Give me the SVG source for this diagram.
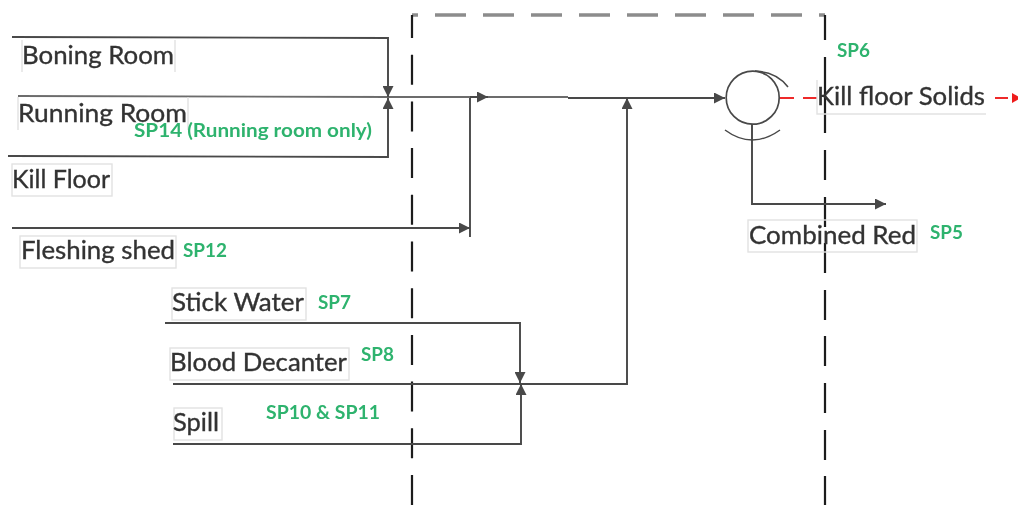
<svg xmlns="http://www.w3.org/2000/svg" width="1018" height="517" viewBox="0 0 1018 517">
<style>
.l{font-family:Lato,"Liberation Sans",sans-serif;font-size:25px;fill:#333;stroke:#333;stroke-width:.35}
.g{font-family:Lato,"Liberation Sans",sans-serif;font-size:18px;font-weight:700;fill:#2fb36e}
.b{fill:none;stroke:#e2e2e2;stroke-width:1.4}
.c{fill:none;stroke:#484848;stroke-width:1.9}
.v{fill:none;stroke:#1c1c1c;stroke-width:2.2}
.r{fill:none;stroke:#ee2b2b;stroke-width:1.9}
</style>
<defs>
<marker id="a" viewBox="0 0 10 10" refX="10" refY="5" markerWidth="11" markerHeight="11" markerUnits="userSpaceOnUse" orient="auto"><path d="M0 0L10 5L0 10Z" fill="#484848"/></marker>
<filter id="s" filterUnits="userSpaceOnUse" x="0" y="0" width="1018" height="517"><feGaussianBlur stdDeviation="0.55"/></filter>
</defs>
<rect width="1018" height="517" fill="#fff"/>
<g filter="url(#s)">
<g id="boundary">
<path d="M412 15H825" fill="none" stroke="#8c8c8c" stroke-width="3.500" stroke-dasharray="31 17" stroke-dashoffset="25"/>
<path class="v" d="M412 15V505" stroke-dasharray="30 16.700" stroke-dashoffset="7"/>
<path class="v" d="M825 15V40M825 57V133M825 150V180M825 197V227M825 243V273M825 290V320M825 336V366M825 383V413M825 430V460M825 476V505"/>
</g>
<g id="connectors">
<path class="c" d="M12 37L388 38V97" marker-end="url(#a)"/>
<path class="c" d="M18 96L388 97H568" stroke-opacity=".8"/>
<path class="c" d="M470 97H488" marker-end="url(#a)"/>
<path class="c" d="M568 98H725" marker-end="url(#a)"/>
<path class="c" d="M8 156L388 157V98" marker-end="url(#a)"/>
<path class="c" d="M12 228H470" marker-end="url(#a)"/>
<path class="c" d="M470 98V237"/>
<path class="c" d="M165 323H520V383" marker-end="url(#a)"/>
<path class="c" d="M173 384H627V98" marker-end="url(#a)"/>
<path class="c" d="M173 444H521V384" marker-end="url(#a)"/>
<path class="c" d="M752 124V204H886" marker-end="url(#a)"/>
<path class="r" d="M780 98H794M803 98H817M995 98H1008"/>
<path d="M1012 93L1021 98L1012 103Z" fill="#ee1c1c"/>
</g>
<g id="separator">
<circle cx="752.700" cy="97.700" r="26.500" fill="none" stroke="#484848" stroke-width="1.700"/>
<path d="M755 71Q777 72 788 87" fill="none" stroke="#484848" stroke-width="1.500"/>
<path d="M725 130Q752 150 780 130" fill="none" stroke="#484848" stroke-width="1.500"/>
</g>
<g id="boning-room"><path class="b" d="M22 40V72M175 40V72"/><text class="l" x="22" y="64" textLength="152" lengthAdjust="spacingAndGlyphs">Boning Room</text></g>
<g id="running-room"><path class="b" d="M18 97V130M188 97V130"/><text class="l" x="18" y="122" textLength="169" lengthAdjust="spacingAndGlyphs">Running Room</text></g>
<g id="kill-floor"><rect class="b" x="12" y="164" width="100" height="32"/><text class="l" x="12" y="188" textLength="98" lengthAdjust="spacingAndGlyphs">Kill Floor</text></g>
<g id="fleshing-shed"><rect class="b" x="20" y="236" width="156" height="32"/><text class="l" x="21" y="259" textLength="154" lengthAdjust="spacingAndGlyphs">Fleshing shed</text></g>
<g id="stick-water"><rect class="b" x="172" y="288" width="134" height="32"/><text class="l" x="172" y="311" textLength="132" lengthAdjust="spacingAndGlyphs">Stick Water</text></g>
<g id="blood-decanter"><rect class="b" x="170" y="348" width="179" height="32"/><text class="l" x="170" y="371" textLength="177" lengthAdjust="spacingAndGlyphs">Blood Decanter</text></g>
<g id="spill"><rect class="b" x="174" y="408" width="48" height="32"/><text class="l" x="173" y="431" textLength="46" lengthAdjust="spacingAndGlyphs">Spill</text></g>
<g id="kill-floor-solids"><path class="b" d="M817 80V114H986"/><text class="l" x="817" y="105" textLength="168" lengthAdjust="spacingAndGlyphs">Kill floor Solids</text></g>
<g id="combined-red"><rect class="b" x="748" y="220" width="169" height="32"/><text class="l" x="749" y="244" textLength="167" lengthAdjust="spacingAndGlyphs">Combined Red</text></g>
<g id="sample-points">
<text class="g" x="134" y="137" textLength="238" lengthAdjust="spacingAndGlyphs">SP14 (Running room only)</text>
<text class="g" x="183" y="257" textLength="44" lengthAdjust="spacingAndGlyphs">SP12</text>
<text class="g" x="837" y="57" textLength="33" lengthAdjust="spacingAndGlyphs">SP6</text>
<text class="g" x="930" y="239" textLength="33" lengthAdjust="spacingAndGlyphs">SP5</text>
<text class="g" x="318" y="309" textLength="33" lengthAdjust="spacingAndGlyphs">SP7</text>
<text class="g" x="361" y="361" textLength="33" lengthAdjust="spacingAndGlyphs">SP8</text>
<text class="g" x="266" y="419" textLength="114" lengthAdjust="spacingAndGlyphs">SP10 &amp; SP11</text>
</g>
</g>
</svg>
